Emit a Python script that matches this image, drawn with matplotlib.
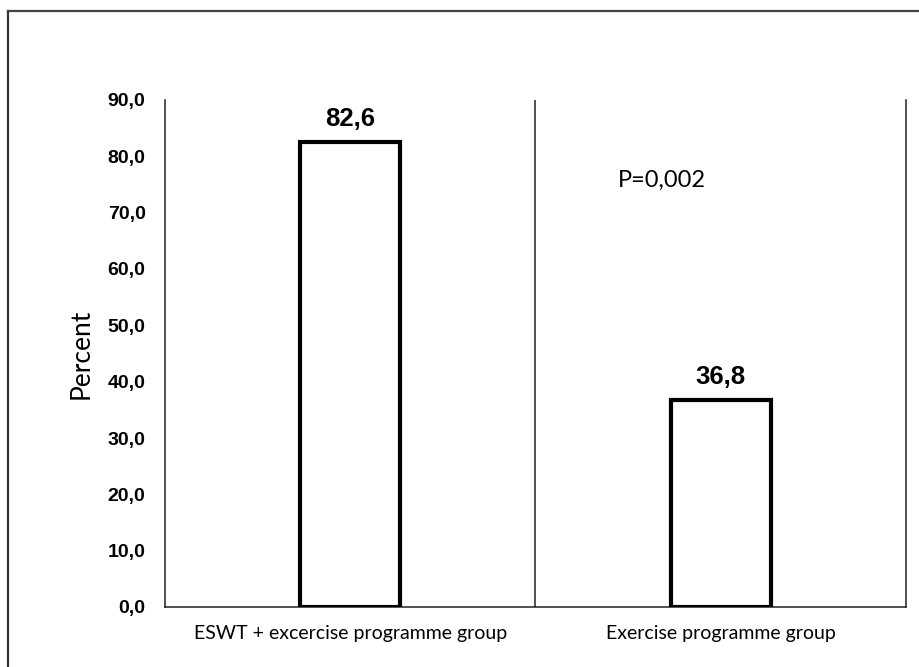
import matplotlib
matplotlib.use("Agg")
import matplotlib.pyplot as plt
from matplotlib.lines import Line2D

groups = ["ESWT + excercise programme group", "Exercise programme group"]
percent = [82.6, 36.8]
value_labels = ["82,6", "36,8"]
y_ticks = [0, 10, 20, 30, 40, 50, 60, 70, 80, 90]
y_tick_labels = ["0,0", "10,0", "20,0", "30,0", "40,0", "50,0", "60,0", "70,0", "80,0", "90,0"]
p_text = "P=0,002"

fig = plt.figure(figsize=(9.2, 6.67), dpi=100)
ax = fig.add_axes([165 / 920, 60 / 667, 741 / 920, 507 / 667])

x = list(range(len(groups)))
ax.bar(x, percent, width=0.27, facecolor="white", edgecolor="black", linewidth=3, zorder=3)

for xi, v, lab in zip(x, percent, value_labels):
    ax.annotate(lab, (xi, v), xytext=(0, 8), textcoords="offset points",
                ha="center", va="bottom", fontsize=18.5, fontweight="bold",
                family="Liberation Sans")

ax.set_xlim(-0.5, 1.5)
ax.set_ylim(0, 90)
ax.set_yticks(y_ticks)
ax.set_yticklabels(y_tick_labels, fontsize=14, fontweight="bold", family="Liberation Sans")
ax.set_xticks(x)
ax.set_xticklabels(groups, fontsize=14, family="Lato")
ax.tick_params(axis="y", length=0, pad=14)
ax.tick_params(axis="x", length=0, pad=13)
ax.set_ylabel("Percent", fontsize=19, family="Lato", labelpad=10)

# category separator like the Excel chart
ax.axvline(0.5, color="#222222", linewidth=1.1)

ax.spines["top"].set_visible(False)
for s in ["left", "right", "bottom"]:
    ax.spines[s].set_color("#222222")
    ax.spines[s].set_linewidth(1.1)

ax.text(0.84, 75.8, p_text, ha="center", va="center", fontsize=17, family="Lato")

# outer frame (only left and top edges visible in the picture)
fig.add_artist(Line2D([8 / 920, 8 / 920], [0, 1 - 11 / 667], color="#333333", linewidth=1.6,
                      transform=fig.transFigure))
fig.add_artist(Line2D([8 / 920, 1], [1 - 11 / 667, 1 - 11 / 667], color="#444444", linewidth=1.6,
                      transform=fig.transFigure))

fig.savefig("out.png", dpi=100, facecolor="white")
